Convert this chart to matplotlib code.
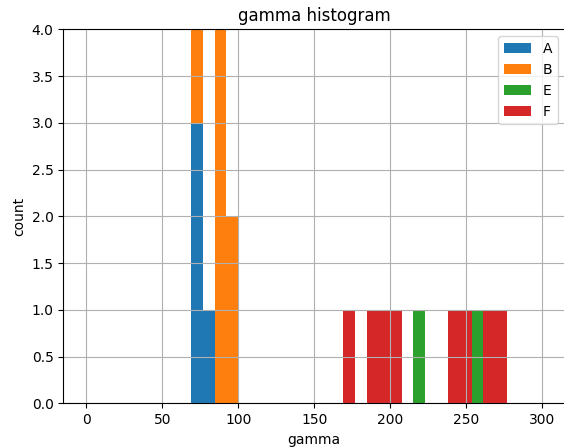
import matplotlib
matplotlib.use("Agg")
import matplotlib.pyplot as plt

# gamma values per group
labels = ["A", "B", "E", "F"]
gamma_A = [71, 73, 75, 80]
gamma_B = [72, 75, 86, 87, 88, 89, 90, 94, 97]
gamma_E = [218, 257]
gamma_F = [172, 188, 196, 204, 242, 250, 265, 273]
n_bins = 27
bin_range = (69, 276.5)

colors = ["#1f77b4", "#ff7f0e", "#2ca02c", "#d62728"]

fig = plt.figure(figsize=(5.64, 4.47), dpi=100)
ax = fig.add_axes([63.3 / 564, (447 - 403.3) / 447, (564.6 - 63.3) / 564, (403.3 - 29.3) / 447])

ax.hist([gamma_A, gamma_B, gamma_E, gamma_F], bins=n_bins, range=bin_range,
        stacked=True, color=colors, label=labels)

ax.set_xlim(-15.2, 314.6)
ax.set_ylim(0, 4)
ax.set_xticks([0, 50, 100, 150, 200, 250, 300])
ax.set_yticks([0.0, 0.5, 1.0, 1.5, 2.0, 2.5, 3.0, 3.5, 4.0])
ax.set_yticklabels(["0.0", "0.5", "1.0", "1.5", "2.0", "2.5", "3.0", "3.5", "4.0"])
ax.grid(True)
ax.set_title("gamma histogram")
ax.set_xlabel("gamma")
ax.set_ylabel("count")
ax.legend(loc="upper right")

fig.savefig("out.png", dpi=100)
